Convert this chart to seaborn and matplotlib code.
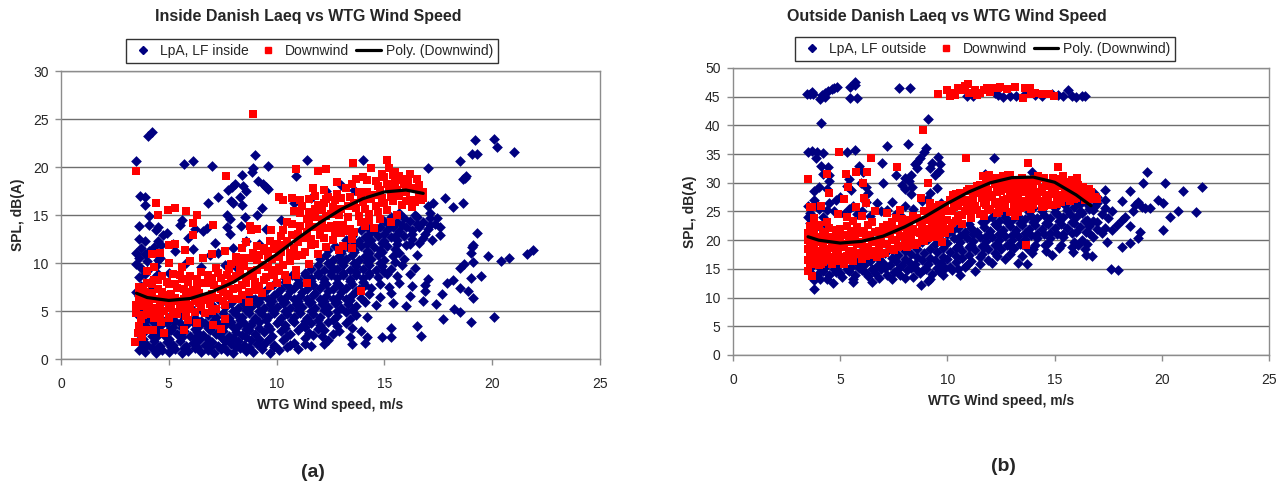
import matplotlib
matplotlib.use("Agg")
import matplotlib.pyplot as plt
from matplotlib.lines import Line2D
import pandas as pd
import seaborn as sns

# ---------------- inside measurements (panel a) ----------------
inside_lpa = [
    (3.6,0.9),(3.9,0.7),(4.2,1.1),(4.4,0.6),(4.7,0.9),(5.0,0.7),(5.3,1.0),(5.6,0.6),(5.9,0.8),(6.2,1.1),
    (6.5,0.7),(6.8,0.9),(7.1,0.6),(7.4,1.0),(7.7,0.8),(8.0,0.6),(8.3,1.1),(8.6,0.8),(8.9,0.7),(9.3,1.0),
    (9.7,0.6),(10.1,0.9),(10.5,1.2),(11.0,1.0),(11.6,1.4),(12.2,1.6),(13.5,1.6),(14.1,1.7),
    (3.8,1.2),(4.5,1.2),(5.1,1.3),(5.7,1.1),(6.3,1.3),(6.9,1.2),(7.5,1.3),(8.1,1.2),(8.7,1.3),(9.3,1.4),
    (9.9,1.2),(10.6,1.5),(11.3,1.6),
    (3.7,1.7),(4.0,1.5),(4.3,1.9),(4.6,1.4),(4.9,1.8),(5.2,1.5),(5.5,1.9),(5.8,1.4),(6.1,1.7),(6.4,2.0),
    (6.7,1.5),(7.0,1.8),(7.3,1.4),(7.6,1.9),(7.9,1.6),(8.2,1.9),(8.5,1.5),(8.8,2.0),(9.1,1.6),(9.5,1.8),
    (9.9,1.5),(10.3,2.0),(10.8,1.7),(11.3,2.2),(12.1,2.4),(12.6,2.6),(13.4,2.3),(14.2,2.3),(14.9,2.3),(15.3,2.3),
    (3.8,2.1),(4.4,2.3),(5.0,2.1),(5.6,2.3),(6.2,2.2),(6.8,2.1),(7.4,2.3),(8.0,2.2),(8.6,2.3),(9.2,2.1),
    (9.7,2.2),(10.5,2.4),(11.7,2.5),(12.4,2.0),
    (3.6,2.6),(3.9,2.9),(4.2,2.4),(4.5,2.8),(4.8,2.5),(5.1,3.0),(5.4,2.6),(5.7,2.9),(6.0,2.4),(6.3,2.8),
    (6.6,2.5),(6.9,3.0),(7.2,2.6),(7.5,2.9),(7.8,2.4),(8.1,2.8),(8.4,2.5),(8.7,3.0),(9.0,2.6),(9.4,2.8),
    (9.8,2.4),(10.2,2.9),(10.6,2.6),(11.0,3.0),(11.5,2.7),(11.9,3.1),(13.5,3.2),(13.9,2.9),(15.3,3.2),(16.5,3.4),(16.7,2.4),
    (3.8,3.1),(4.4,3.2),(5.0,3.0),(5.6,3.2),(6.2,3.1),(6.8,3.2),(7.4,3.1),(8.0,3.3),(8.6,3.1),(9.2,3.2),
    (9.7,3.1),(10.4,3.2),(11.3,3.3),(12.2,3.0),(12.9,2.9),
    (3.7,3.6),(4.0,3.3),(4.3,3.8),(4.6,3.4),(4.9,3.7),(5.2,3.3),(5.5,3.8),(5.8,3.5),(6.1,3.9),(6.4,3.4),
    (6.7,3.7),(7.0,3.3),(7.3,3.8),(7.6,3.5),(7.9,3.9),(8.2,3.4),(8.5,3.8),(8.8,3.5),(9.2,3.9),(9.6,3.4),
    (10.0,3.8),(10.4,3.5),(10.8,3.9),(11.2,3.4),(11.6,3.8),(12.0,3.5),(12.4,3.9),(12.8,3.4),(13.2,3.7),
    (3.9,4.0),(4.7,4.1),(5.3,4.0),(5.9,4.2),(6.5,4.0),(7.1,4.1),(7.7,4.0),(8.3,4.1),(8.9,4.0),(9.5,4.1),
    (10.1,4.0),(10.7,4.1),(11.3,4.0),(11.9,4.1),(12.6,4.1),(13.4,4.2),(14.2,4.4),
    (3.6,4.5),(4.1,4.3),(4.4,4.7),(5.0,4.4),(5.6,4.6),(6.2,4.3),(6.8,4.6),(7.2,4.4),(7.5,4.8),(7.8,4.3),
    (8.1,4.7),(8.4,4.4),(8.7,4.8),(9.0,4.3),(9.3,4.7),(9.6,4.4),(9.9,4.8),(10.2,4.3),(10.5,4.7),(10.8,4.4),
    (11.1,4.8),(11.4,4.3),(11.7,4.7),(12.0,4.4),(12.4,4.8),(12.8,4.5),(13.2,4.9),(13.7,4.6),(18.25,5.2),
    (18.5,4.9),(19.0,3.9),(20.1,4.35),(17.7,4.2),
    (4.5,5.2),(5.0,5.6),(5.5,5.0),(6.0,5.4),(6.5,5.1),(7.0,5.6),(6.3,6.0),(7.3,6.3),(7.8,6.6),
    (8.0,5.0),(8.6,5.1),(9.2,5.0),(9.8,5.1),(10.4,5.0),(11.0,5.1),(11.6,5.0),(12.2,5.1),(12.8,5.0),(13.5,5.1),
    (3.7,5.4),(4.0,5.8),(7.6,5.4),(7.9,5.8),(8.2,5.3),(8.5,5.7),(8.8,5.4),(9.1,5.8),(9.4,5.3),(9.7,5.7),
    (10.0,5.4),(10.3,5.8),(10.6,5.3),(10.9,5.7),(11.2,5.4),(11.5,5.8),(11.8,5.3),(12.1,5.7),(12.4,5.4),
    (12.7,5.8),(13.0,5.3),(13.3,5.7),(13.7,5.5),(14.1,5.9),(14.6,5.6),(15.4,5.8),(16.0,5.5),(16.8,6.0),
    (17.4,5.7),(17.65,6.75),
    (8.6,6.0),(9.2,5.9),(9.8,6.0),(10.4,5.9),(11.0,6.0),(11.6,5.9),(12.2,6.0),(12.8,5.9),(13.4,6.1),
    (3.6,6.6),(3.9,6.2),(8.3,6.3),(8.7,6.6),(9.0,6.2),(9.3,6.6),(9.6,6.3),(9.9,6.7),(10.2,6.3),(10.5,6.6),
    (10.8,6.2),(11.1,6.6),(11.4,6.3),(11.7,6.7),(12.0,6.3),(12.3,6.6),(12.6,6.2),(12.9,6.6),(13.2,6.3),
    (13.5,6.7),(13.9,6.4),(14.3,6.8),(14.8,6.5),(15.3,6.9),(16.2,6.6),(16.9,7.1),(18.9,7.1),(19.1,6.4),(18.5,7.4),
    (9.4,7.0),(10.0,6.9),(10.6,7.1),(11.2,7.0),(11.8,6.9),(12.4,7.1),(13.0,7.0),(13.7,7.1),
    (3.7,7.6),(4.2,7.3),(9.6,7.4),(9.9,7.8),(10.2,7.3),(10.5,7.7),(10.8,7.4),(11.1,7.8),(11.4,7.3),(11.7,7.7),
    (12.0,7.4),(12.3,7.8),(12.6,7.3),(12.9,7.7),(13.2,7.4),(13.5,7.8),(13.8,7.3),(14.1,7.7),(14.4,7.4),
    (14.8,7.8),(15.2,7.5),(15.7,7.9),(16.3,7.6),(16.9,7.75),(17.9,7.9),
    (10.4,8.0),(11.0,7.9),(11.6,8.1),(12.2,8.0),(12.8,7.9),(13.4,8.1),(14.0,8.0),
    (3.6,8.5),(3.9,8.9),(4.3,8.4),(10.4,8.4),(10.7,8.8),(11.0,8.3),(11.3,8.7),(11.6,8.4),(11.9,8.8),(12.2,8.3),
    (12.5,8.7),(12.8,8.4),(13.1,8.8),(13.4,8.3),(13.7,8.7),(14.0,8.4),(14.3,8.8),(14.7,8.5),(15.1,8.9),
    (15.6,8.6),(16.2,8.9),(17.0,8.3),(18.17,8.2),(19.0,8.4),(19.5,8.65),
    (11.3,9.0),(11.9,9.0),(12.5,9.1),(13.1,9.0),(13.7,9.1),(14.3,9.0),(15.0,9.1),
    (3.7,9.5),(4.0,9.2),(4.4,9.7),(11.6,9.4),(11.9,9.8),(12.2,9.3),(12.5,9.7),(12.8,9.4),(13.1,9.8),(13.4,9.3),
    (13.7,9.7),(14.0,9.4),(14.3,9.8),(14.6,9.3),(14.9,9.7),(15.3,9.4),(15.8,9.8),(16.4,9.5),(18.5,9.5),
    (18.7,9.9),(19.1,10.1),
    (12.4,10.0),(13.0,10.1),(13.6,10.0),(14.2,10.1),(14.8,10.0),(15.5,10.1),
    (3.6,10.5),(3.9,10.9),(4.5,10.3),(12.0,10.4),(12.3,10.8),(12.6,10.3),(12.9,10.7),(13.2,10.4),(13.5,10.8),
    (13.8,10.3),(14.1,10.7),(14.4,10.4),(14.7,10.8),(15.0,10.3),(15.4,10.7),(15.9,10.4),(16.5,10.8),
    (19.8,10.7),(20.4,10.2),(20.78,10.56),(21.6,10.95),(21.9,11.37),
    (13.0,11.0),(13.6,11.1),(14.3,11.0),(14.9,11.1),(15.7,11.0),
    (3.7,11.6),(4.1,11.2),(4.65,11.9),(12.4,11.4),(12.7,11.8),(13.0,11.3),(13.3,11.7),(13.6,11.4),(13.9,11.8),
    (14.2,11.3),(14.5,11.7),(14.8,11.4),(15.1,11.8),(15.5,11.5),(16.0,11.9),(16.6,12.1),(17.2,12.4),
    (19.07,11.7),(19.1,11.9),(19.0,11.0),
    (13.6,12.0),(14.2,12.0),(14.9,12.1),(15.6,12.0),(16.2,12.0),
    (3.9,12.3),(4.5,12.3),(4.75,12.9),(5.9,12.6),(7.14,12.1),(13.2,12.4),(13.5,12.8),(13.8,12.3),(14.1,12.7),
    (14.4,12.4),(14.7,12.8),(15.0,12.3),(15.3,12.7),(15.6,12.4),(15.9,12.8),(16.3,12.5),(16.8,12.6),
    (17.58,12.9),(19.3,13.1),
    (14.3,13.0),(15.0,13.0),(15.6,13.0),(16.3,13.0),(16.9,13.0),
    (3.62,13.9),(4.1,14.0),(4.4,13.4),(4.51,13.8),(5.52,14.0),(6.6,13.3),(6.76,13.6),(7.7,13.7),(7.86,13.0),
    (8.33,13.9),(13.9,13.4),(14.2,13.8),(14.5,13.3),(14.8,13.7),(15.1,13.4),(15.4,13.8),(15.7,13.3),
    (16.0,13.7),(16.3,13.4),(16.6,13.8),(17.0,13.5),(17.35,14.1),(17.6,13.7),
    (15.2,14.0),(15.8,14.0),(16.5,14.1),(17.1,14.0),(15.7,15.2),(16.4,15.0),(17.1,15.2),
    (4.08,14.9),(5.6,14.5),(7.7,15.0),(7.84,14.6),(8.53,14.8),(9.07,15.0),(15.0,14.4),(15.3,14.8),(15.6,14.3),
    (15.9,14.7),(16.2,14.4),(16.5,14.8),(16.8,14.3),(17.1,14.7),(17.45,14.7),
    (3.5,7.0),(3.5,9.9),(3.5,11.0),(3.6,12.5),(4.0,10.2),(4.3,11.7),(4.5,8.9),
    (3.66,17.0),(3.9,16.9),(3.9,16.0),(6.83,16.2),(7.3,16.9),(7.76,17.6),(7.92,17.9),(8.07,18.25),(8.46,18.0),
    (8.38,19.2),(8.6,17.5),(9.15,18.5),(9.35,18.2),(9.5,17.9),(9.62,17.7),(7.9,16.5),(8.0,16.3),(8.4,16.0),
    (8.3,16.9),(9.3,15.7),(3.48,20.6),(5.72,20.3),(6.14,20.6),(7.02,20.1),(9.0,21.3),(8.84,19.5),(8.9,19.9),
    (9.62,20.1),(11.4,20.7),(10.88,19.1),(4.05,23.2),(4.2,23.6),(14.02,20.75),(17.04,19.9),(18.5,20.6),
    (19.08,21.4),(19.28,21.4),(19.2,22.8),(20.1,22.9),(20.24,22.1),(21.02,21.55),(18.66,18.7),(18.73,18.9),
    (18.8,19.1),(17.8,16.75),(18.2,15.8),(18.66,16.2),(17.24,16.2),(17.0,15.9),
    (4.6,10.5),(5.0,9.0),(5.3,11.2),(5.8,10.0),(6.1,11.5),(6.5,9.6),(6.9,10.8),(7.3,11.0),(7.6,9.8),(8.0,11.6),
    (8.6,12.3),(8.1,9.6),(9.2,12.0),(9.5,13.5),(5.2,12.0),(6.2,13.5),(4.9,13.1),(10.2,14.5),(10.8,16.2),
    (11.6,16.8),(12.3,17.5),(13.0,18.1),(13.6,17.6),
]

inside_downwind = [
    (3.5,4.8),(3.6,5.9),(3.6,6.8),(3.7,4.2),(3.8,5.5),(3.8,7.4),(3.9,6.3),(4.0,4.7),(4.0,7.9),(4.1,5.8),
    (4.2,6.9),(4.3,4.3),(4.3,8.2),(4.4,5.3),(4.5,7.3),(4.6,6.1),(4.6,4.5),(4.7,8.6),(4.8,5.0),(4.9,6.7),
    (5.0,7.8),(5.0,4.3),(5.1,5.7),(5.2,8.9),(5.3,6.4),(5.4,4.7),(5.4,7.4),(5.5,5.4),(5.6,8.3),(5.7,6.2),
    (5.8,4.5),(5.8,7.0),(5.9,5.6),(6.0,8.6),(6.1,6.6),(6.2,4.9),(6.3,7.6),(6.4,5.8),(6.5,9.1),(6.6,6.4),
    (6.7,4.8),(6.8,7.9),(6.9,5.7),(7.0,8.4),(7.0,6.8),(7.2,5.2),(7.3,9.0),(7.4,7.3),(7.5,6.0),
    (3.5,5.6),(3.6,7.5),(3.7,6.1),(3.8,4.6),(3.9,7.0),(4.0,5.2),(4.1,6.5),(4.2,7.8),(4.3,5.0),(4.4,6.2),
    (4.5,8.2),(4.6,5.5),(4.7,7.0),(4.8,6.0),(4.9,8.0),(5.0,5.3),(5.1,6.8),(5.2,4.9),(5.3,7.8),(5.4,6.0),
    (5.5,8.7),(5.6,5.2),(5.7,7.3),(5.8,6.2),(5.9,8.0),(6.0,5.2),(6.1,7.2),(6.2,6.0),(6.3,8.3),(6.4,6.9),
    (6.5,5.4),(6.6,7.9),(6.7,6.1),(6.8,8.8),(6.9,6.5),(7.0,5.0),(7.1,7.7),(7.2,9.5),(7.3,6.4),(7.4,8.4),
    (7.5,7.0),(7.6,5.6),(7.7,8.8),(7.8,6.8),(7.9,9.9),(8.0,7.3),(8.1,8.6),(8.2,6.2),(8.3,9.6),(8.4,7.7),
    (8.5,10.5),(8.6,8.5),(8.7,7.0),(8.8,9.2),(8.9,11.0),(9.0,8.0),(9.1,10.3),(9.2,7.6),(9.3,9.8),(9.4,11.6),
    (9.5,8.5),(9.6,10.7),(9.7,12.3),(9.8,9.3),(9.9,11.5),(10.0,9.2),(10.1,10.6),(10.2,12.8),(10.3,9.8),
    (10.4,11.9),(10.5,14.3),(10.6,11.0),(10.7,12.9),(10.8,15.4),(10.9,10.7),(11.0,12.2),(11.1,13.9),
    (11.2,15.9),(11.3,11.1),(11.4,13.2),(11.5,15.3),(11.6,12.5),(11.7,14.8),(11.8,12.0),(11.9,16.0),
    (12.0,13.8),(12.1,15.5),(12.2,12.6),(12.3,14.9),(12.4,16.9),(12.5,13.9),(12.6,15.8),(12.7,13.2),
    (12.8,17.2),(12.9,15.0),(13.0,16.8),(13.1,14.0),(13.2,17.8),(13.3,15.9),(13.4,13.5),(13.6,16.3),
    (13.7,18.8),(13.8,14.9),(13.9,16.9),(14.0,19.0),(14.1,15.6),(14.2,17.4),(14.3,14.5),(14.4,16.7),
    (14.6,18.5),(14.7,15.3),(14.8,17.6),(14.9,19.3),(15.0,16.2),(15.1,18.2),(15.3,16.9),(15.4,19.2),
    (15.6,17.6),(15.7,19.1),(15.8,18.6),(16.0,16.5),(16.1,17.9),(16.2,19.3),(16.4,16.4),(16.5,18.7),
    (16.6,17.2),(16.8,16.8),
    (3.45,1.8),(3.57,2.7),(3.74,2.3),(3.6,3.4),(3.9,3.0),(4.26,3.0),(4.62,3.9),(4.78,2.7),(5.7,3.0),(5.9,4.1),
    (7.06,3.5),(7.4,3.1),(7.6,4.2),(6.3,3.7),
    (3.48,19.6),(4.39,16.2),(4.48,15.0),(4.98,15.5),(5.29,15.7),(5.78,15.4),(6.29,15.0),(6.1,14.2),(7.07,14.0),
    (6.1,12.9),(5.0,11.9),(5.3,12.0),(5.75,11.4),(4.2,10.9),(4.6,11.0),(4.0,9.2),(4.3,9.6),(5.0,10.0),
    (5.6,9.6),(6.0,10.2),(6.6,10.5),(7.0,10.9),(7.67,19.1),(8.89,25.5),(8.77,13.9),(8.8,13.4),(9.07,13.5),
    (8.6,12.2),(9.1,11.8),(8.4,11.6),(9.75,13.4),(7.6,11.3),(8.1,10.6),
    (7.6,7.8),(7.7,6.6),(7.8,9.4),(7.9,8.3),(8.0,6.2),(8.1,10.1),(8.2,7.4),(8.3,8.8),(8.4,6.7),(8.5,9.7),
    (8.6,7.9),(8.7,5.9),(8.8,10.5),(8.9,8.6),(9.0,7.2),(9.1,9.3),(9.2,10.8),(9.3,6.9),(9.4,8.2),(9.5,11.3),
    (9.6,9.6),(9.7,7.6),(9.8,10.4),(9.9,8.8),(10.0,12.0),(10.0,7.9),
    (10.1,9.5),(10.2,11.1),(10.3,13.4),(10.4,8.7),(10.5,12.3),(10.6,10.2),(10.7,14.1),(10.8,11.6),(10.9,9.3),
    (11.0,13.0),(11.1,15.2),(11.2,10.8),(11.3,12.6),(11.4,14.6),(11.5,9.9),(11.6,11.9),(11.7,13.7),(11.8,15.6),
    (11.9,10.9),(12.0,12.9),(12.1,14.3),(12.2,16.2),(12.3,11.7),(12.4,13.6),(12.5,15.1),(12.6,12.4),
    (12.7,16.6),(12.8,14.0),(12.9,11.4),(13.0,15.6),(13.0,13.1),(10.1,16.9),(10.3,16.6),(10.7,16.8),
    (11.1,16.6),(11.5,16.7),(11.7,17.8),(11.8,17.0),(12.2,17.6),(12.3,16.7),(12.8,18.4),(10.9,19.8),
    (11.9,19.6),(12.3,19.8),(11.5,14.0),(11.8,14.8),(12.1,14.5),(11.4,7.9),(10.5,8.2),(10.9,8.8),
    (13.1,11.8),(13.2,13.3),(13.3,14.8),(13.4,16.9),(13.5,12.5),(13.5,18.2),(13.56,20.4),(13.6,13.2),
    (13.7,15.7),(13.8,17.4),(13.9,14.3),(14.0,16.4),(14.1,13.9),(14.2,18.6),(14.3,15.1),(14.4,19.9),
    (14.5,13.6),(14.5,17.1),(14.6,15.9),(14.7,18.0),(14.8,14.6),(14.9,16.8),(15.0,19.0),(15.1,20.75),
    (15.1,15.5),(15.2,17.7),(15.2,19.9),(15.3,14.3),(15.4,16.5),(15.5,19.5),(15.5,18.3),(15.6,15.0),
    (15.7,17.0),(15.8,16.0),(15.9,18.2),(15.95,18.7),(16.0,17.4),(16.1,18.5),(16.2,16.6),(16.3,15.8),
    (16.4,17.8),(16.5,16.6),(16.6,18.1),(16.7,16.6),(16.8,17.4),(13.5,11.6),(13.9,7.1),(13.5,12.9),
]

inside_trend_x = [3.5, 4.0, 5.0, 6.0, 7.0, 8.0, 9.0, 10.0, 11.0, 12.0, 13.0, 14.0, 15.0, 16.0, 16.8]
inside_trend_y = [6.85, 6.4, 6.1, 6.3, 7.0, 8.0, 9.4, 10.9, 12.6, 14.2, 15.6, 16.7, 17.4, 17.6, 17.25]

# ---------------- outside measurements (panel b) ----------------
outside_lpa = [
    (3.44,45.4),(3.6,45.5),(3.75,45.4),(3.7,45.8),(4.06,44.6),(4.15,45.3),(4.3,45.6),(4.45,46.0),(4.6,46.3),
    (4.72,46.6),(4.84,46.7),(4.3,44.9),(5.46,46.7),(5.46,44.8),(5.7,47.5),(5.7,47.0),(5.77,44.8),(7.74,46.6),
    (8.26,46.6),(12.2,45.6),(12.37,45.3),(12.92,45.1),(13.6,45.4),(14.08,45.3),(14.4,45.2),(14.86,45.4),
    (15.17,45.3),(15.4,45.2),(15.64,46.2),(15.8,45.2),(16.0,45.0),(16.26,45.2),(16.4,45.1),(11.2,45.1),
    (10.9,45.2),(13.2,45.2),(12.6,45.0),
    (4.09,40.5),(9.11,41.2),(3.7,35.5),(3.9,35.3),(4.2,35.2),(3.5,35.4),(3.85,34.3),(5.7,35.7),(5.3,35.3),
    (7.2,36.4),(8.18,36.7),(8.99,36.1),(8.9,35.3),(8.7,34.3),(8.6,33.6),(9.58,34.5),(8.5,33.2),(8.6,32.5),
    (8.3,31.4),(8.0,30.8),(7.6,31.4),(8.2,30.4),(7.9,29.7),(8.35,29.3),(6.96,33.4),(5.9,33.0),(6.05,31.8),
    (5.4,30.6),(5.3,29.5),(5.5,28.8),(4.1,33.0),(4.44,32.7),(4.19,31.6),(4.5,31.3),(4.5,30.3),(4.0,29.2),
    (4.4,28.9),(3.8,28.5),(5.95,30.0),(6.3,28.3),(6.2,29.2),(7.0,30.0),(9.2,32.5),(9.4,31.4),(9.6,32.0),
    (9.3,33.5),(9.65,33.2),(9.5,29.1),(9.2,28.3),(9.05,27.2),(8.0,28.9),(8.3,28.0),(11.75,31.5),(12.19,34.4),
    (13.96,31.8),(19.3,31.8),(19.14,29.9),(20.16,29.9),(21.0,28.6),(21.88,29.3),(17.35,28.7),(18.5,28.5),
    (18.16,26.8),(19.8,27.0),(20.07,26.5),(20.77,25.1),(21.6,24.9),(20.38,24.1),(20.07,21.7),(18.98,21.4),
    (18.9,20.3),(18.5,19.5),(18.16,18.9),(16.76,17.25),(16.45,17.5),(15.87,17.9),(14.86,17.4),(14.55,19.2),
    (13.7,15.8),(13.28,16.0),(13.96,17.7),(17.63,14.9),(17.94,14.75),(17.35,22.1),(17.66,21.8),(17.2,21.2),
    (17.43,19.7),(17.9,22.6),(18.13,23.5),(18.28,24.1),(18.5,22.4),(18.75,26.1),(18.9,26.7),(19.06,25.8),
    (19.2,25.6),(19.45,25.6),(18.67,25.0),(17.35,25.6),(17.66,25.0),(17.2,24.5),(17.5,23.9),(16.8,23.4),
    (16.6,22.5),(17.0,22.0),(16.8,20.6),(16.45,21.5),(16.3,20.0),(16.3,27.9),(16.5,27.3),(16.85,28.2),
    (17.35,27.0),(16.0,27.0),(16.9,26.0),
    (3.79,11.45),(4.06,13.2),(4.68,12.6),(5.58,12.8),(6.5,12.8),(8.75,12.2),(9.1,12.9),(10.6,14.0),(11.3,14.6),
    (3.5,26.0),(3.6,24.7),(3.8,27.0),(4.0,25.5),(4.2,24.0),(4.5,26.5),(4.7,25.0),(5.0,27.5),(5.2,24.5),
    (5.6,26.0),(6.0,25.0),(6.4,24.2),(6.7,26.4),(7.2,25.2),(7.6,24.6),(8.0,26.0),(3.6,23.0),(3.9,22.5),(4.3,22.8),
    (3.5,24.0),(3.9,26.2),(4.4,25.2),(4.8,27.0),(5.4,25.4),(5.8,24.6),(6.2,26.6),(6.9,25.0),(7.4,26.6),
    (7.9,24.0),(8.4,25.4),(8.8,26.8),(9.3,25.0),(9.7,26.4),
    (3.8,13.0),(4.4,13.3),(5.0,14.2),(5.6,13.2),(6.2,14.3),(6.8,13.4),(7.4,13.2),(8.0,13.4),(8.6,14.8),
    (9.2,13.3),(9.8,14.0),(10.5,15.0),
    (3.6,14.5),(3.9,14.0),(4.2,14.7),(4.5,13.9),(4.8,14.4),(5.1,13.6),(5.4,14.6),(5.7,14.0),(6.0,14.8),
    (6.3,13.7),(6.6,14.3),(6.9,14.9),(7.2,13.9),(7.5,14.5),(7.8,14.0),(8.1,14.8),(8.4,13.6),(8.7,14.3),
    (9.0,14.9),(9.3,14.1),(9.6,14.6),(9.9,15.1),(10.2,14.8),(10.8,15.3),
    (3.6,15.1),(4.1,14.9),(4.7,15.0),(5.3,14.9),(5.9,15.1),(6.5,14.9),(7.1,15.1),(7.7,15.0),(8.3,15.1),
    (8.9,15.0),(9.5,15.2),(10.1,15.4),(10.9,15.6),(11.5,15.8),(12.1,16.0),
    (3.7,15.6),(4.0,16.0),(4.3,15.4),(4.6,16.1),(4.9,15.5),(5.2,16.2),(5.5,15.4),(5.8,16.0),(6.1,15.6),
    (6.4,16.3),(6.7,15.5),(7.0,16.1),(7.3,15.7),(7.6,16.4),(7.9,15.6),(8.2,16.2),(8.5,15.8),(8.8,16.5),
    (9.1,15.9),(9.4,16.6),(9.7,16.0),(10.0,16.7),(10.4,16.2),(10.7,16.9),(11.1,16.4),(11.5,17.0),(11.9,16.6),
    (12.3,17.2),(12.7,16.8),
    (3.6,16.8),(4.2,17.0),(4.8,16.9),(5.6,16.7),(6.2,16.9),(6.8,16.7),(7.4,16.9),(8.0,16.8),(8.6,17.0),
    (9.2,16.9),(9.8,17.1),(10.4,17.2),(11.0,17.4),(11.6,17.6),(12.2,17.8),(12.9,17.6),(13.5,17.2),
    (5.3,17.4),(5.9,17.8),(6.5,17.3),(7.1,17.7),(7.4,18.3),(7.7,17.5),(8.0,18.1),(8.3,17.6),(8.6,18.4),
    (8.9,17.8),(9.2,18.5),(9.5,17.9),(9.8,18.6),(10.1,18.0),(10.4,18.7),(10.7,18.2),(11.0,18.9),(11.3,18.3),
    (11.6,19.0),(11.9,18.4),(12.2,19.1),(12.5,18.5),(12.8,19.2),(13.1,18.6),(13.4,19.3),(13.7,18.7),
    (14.0,18.4),(14.6,18.1),(15.2,18.6),(15.8,18.8),(16.4,18.5),
    (10.5,19.0),(11.1,19.2),(11.7,18.9),(12.3,19.3),(12.9,19.0),(13.5,19.4),(14.1,19.1),(14.7,19.5),
    (15.3,19.2),(15.9,19.6),(16.5,19.4),
    (8.8,19.6),(9.1,20.2),(9.4,19.4),(9.7,20.0),(10.0,19.5),(10.3,20.3),(10.6,19.7),(10.9,20.4),(11.2,19.8),
    (11.5,20.5),(11.8,19.9),(12.1,20.6),(12.4,20.0),(12.7,20.7),(13.0,20.1),(13.3,20.8),(13.6,20.2),
    (13.9,20.9),(14.2,20.3),(14.5,21.0),(14.8,20.4),(15.1,21.1),(15.4,20.5),(15.8,21.2),(16.1,19.2),
    (10.0,21.0),(10.6,20.8),(11.2,21.0),(11.8,20.8),(12.4,21.1),(13.0,20.9),(13.6,21.2),(14.2,21.0),
    (14.8,21.3),(15.4,21.1),(16.0,21.4),(16.6,21.2),
    (10.2,21.6),(10.5,22.2),(10.8,21.5),(11.1,22.1),(11.4,21.4),(11.7,22.3),(12.0,21.6),(12.3,22.4),
    (12.6,21.7),(12.9,22.5),(13.2,21.8),(13.5,22.6),(13.8,21.9),(14.1,22.7),(14.4,22.0),(14.7,22.8),
    (15.0,22.1),(15.3,22.9),(15.6,22.2),(15.9,23.0),(16.2,22.3),(16.5,23.5),
    (11.0,22.9),(11.6,23.1),(12.2,22.9),(12.8,23.1),(13.4,23.0),(14.0,23.2),(14.6,23.0),(15.2,23.3),
    (15.8,23.1),(16.4,23.4),(17.0,23.2),
    (11.8,23.6),(12.1,24.1),(12.4,23.4),(12.7,24.0),(13.0,23.5),(13.3,24.2),(13.6,23.7),(13.9,24.3),
    (14.2,23.8),(14.5,24.4),(14.8,23.9),(15.1,24.5),(15.4,24.0),(15.7,24.6),(16.0,24.1),(16.3,24.8),(16.6,25.4),
    (12.6,24.9),(13.2,25.1),(13.8,24.9),(14.4,25.1),(15.0,24.9),(15.6,25.2),(16.2,25.0),(16.8,25.2),
    (14.0,25.6),(14.5,26.0),(15.0,25.6),(15.5,26.2),(15.9,25.7),(16.2,26.3),(16.6,26.0),(17.0,26.5),
    (15.3,26.9),(15.8,27.3),(16.4,26.8),(17.0,27.6),
]

outside_downwind = [
    (9.55,45.4),(10.0,46.2),(10.2,45.6),(10.51,46.5),(10.98,47.2),(10.67,46.2),(11.29,46.2),(11.52,45.6),
    (10.12,45.2),(11.83,46.5),(12.07,46.6),(12.37,46.5),(11.0,45.7),(10.35,45.3),(11.4,45.3),(12.45,46.7),
    (12.0,45.9),(13.15,46.7),(13.6,46.6),(13.85,46.6),(13.54,44.8),(14.07,45.6),(14.75,45.4),(14.98,45.2),
    (13.9,45.5),(10.8,46.9),(11.7,46.1),(12.8,46.3),(14.4,45.5),
    (8.88,39.2),(4.95,35.4),(6.44,34.3),(7.63,32.8),(10.85,34.4),(5.26,31.6),(5.74,31.8),(6.24,31.9),
    (3.48,30.6),(4.4,31.5),(5.38,29.3),(6.08,29.9),(4.46,28.2),(9.08,29.9),(8.77,27.4),(5.16,27.2),
    (6.1,27.4),(6.2,26.5),(5.74,25.7),(3.59,25.7),(3.59,22.4),(3.52,14.6),(3.7,13.8),(9.73,19.7),
    (9.19,26.4),(9.6,26.2),(10.28,27.9),(13.75,33.4),(15.14,32.8),(13.65,19.2),
    (11.65,31.1),(11.96,31.4),(12.27,30.8),(12.58,31.1),(12.9,31.4),(12.84,31.4),(12.92,29.6),(13.47,30.2),
    (13.85,29.6),(14.24,31.1),(14.94,30.8),(15.4,31.1),(15.8,30.5),(16.03,30.8),(16.34,29.3),(16.57,27.6),
    (16.8,27.4),(15.72,28.2),(15.4,27.3),(14.94,26.1),(14.4,25.8),(13.93,26.7),(13.3,24.9),(13.15,24.3),
    (3.5,16.5),(3.5,18.5),(3.5,20.0),(3.6,17.4),(3.7,19.3),(3.7,15.8),(3.8,21.0),(3.9,16.6),(3.9,18.2),
    (4.0,20.2),(4.1,17.3),(4.1,15.9),(4.2,19.0),(4.3,21.4),(4.3,16.5),(4.4,18.0),(4.5,20.0),(4.6,17.1),
    (4.6,15.8),(4.7,19.2),(4.8,21.8),(4.8,16.4),(4.9,18.3),(5.0,20.6),(5.1,17.0),(5.2,19.4),(5.2,15.9),
    (5.3,22.5),(5.4,18.2),(5.5,16.6),(5.5,20.5),(4.0,22.7),(4.4,23.2),(4.9,24.5),(5.3,24.0),(3.8,23.8),
    (3.7,25.8),(4.1,25.9),
    (3.6,16.0),(3.6,18.0),(3.6,19.8),(3.7,21.5),(3.8,17.0),(3.8,18.8),(3.9,20.6),(4.0,15.6),(4.0,17.8),
    (4.1,19.6),(4.2,16.2),(4.2,21.0),(4.3,18.4),(4.4,20.5),(4.5,16.8),(4.5,22.1),(4.6,18.6),(4.7,20.6),
    (4.8,17.6),(4.9,19.8),(5.0,16.4),(5.0,22.0),(5.1,18.8),(5.2,20.9),(5.3,17.3),(5.4,19.6),(5.5,21.6),
    (5.6,18.0),(3.5,21.2),(3.9,22.4),
    (5.7,17.6),(5.8,19.3),(5.9,21.2),(6.0,16.8),(6.1,18.5),(6.2,20.4),(6.3,22.6),(6.4,17.4),(6.5,19.6),
    (6.6,21.5),(6.7,17.0),(6.8,18.6),(6.9,20.5),(7.0,22.3),(7.1,17.8),(7.2,19.4),(7.3,21.2),(7.4,23.1),
    (7.5,18.3),(7.6,20.1),(7.7,22.0),(7.8,19.0),(7.9,23.7),(8.0,20.8),(8.1,18.8),(8.2,22.5),(8.3,19.9),
    (8.4,24.3),(8.5,21.4),(8.6,19.5),(8.7,23.2),(8.8,20.6),(8.9,25.1),(9.0,22.0),(9.1,20.3),(9.2,24.0),
    (9.3,21.5),(9.4,25.7),(9.5,23.0),(9.6,21.0),(9.7,24.8),(9.8,22.4),(9.9,26.2),(10.0,23.6),(10.1,21.9),
    (6.0,24.2),(6.6,25.0),(7.2,24.8),(7.8,25.3),(5.6,23.3),
    (5.6,16.3),(5.7,20.2),(5.8,22.3),(5.9,17.8),(6.0,19.6),(6.1,21.6),(6.2,17.2),(6.3,18.8),(6.4,20.9),
    (6.5,23.2),(6.6,18.2),(6.7,19.9),(6.8,21.6),(6.9,17.6),(7.0,19.3),(7.1,21.1),(7.2,22.7),(7.3,18.4),
    (7.4,20.0),(7.5,21.8),(7.6,23.8),(7.7,18.9),(7.8,20.8),(7.9,22.3),(8.0,19.4),(8.1,21.5),(8.2,23.6),
    (8.3,20.7),(8.4,22.0),(8.5,19.2),(8.6,23.9),(8.7,21.3),(8.8,22.7),(8.9,19.9),(9.0,23.6),(9.1,21.8),
    (9.2,25.2),(9.3,22.6),(9.4,20.6),(9.5,24.4),(9.6,22.0),(9.7,26.0),(9.8,23.5),(9.9,21.2),(10.0,25.0),(10.1,27.0),
    (10.2,25.0),(10.3,27.1),(10.4,23.3),(10.5,26.0),(10.6,28.3),(10.7,24.4),(10.8,27.0),(10.9,25.6),
    (11.0,29.0),(11.1,23.9),(11.2,26.8),(11.3,28.2),(11.4,25.2),(11.5,29.6),(11.6,27.4),(11.7,24.3),
    (11.8,26.2),(11.9,28.7),(12.0,25.4),(12.1,27.6),(12.2,29.8),(12.3,24.8),(12.4,26.7),(12.5,28.5),
    (12.6,25.6),(12.7,30.0),(12.8,27.2),(12.9,24.9),(13.0,28.6),(13.1,26.2),(13.2,30.1),(13.3,27.5),
    (13.4,25.6),(13.5,29.0),(13.6,26.8),(13.7,30.4),(13.8,28.1),(13.9,25.4),(14.0,29.5),(14.1,27.0),
    (14.2,30.3),(14.3,28.4),(14.5,25.9),(14.6,29.6),(14.7,27.3),(14.9,30.0),(15.0,28.5),(15.1,26.3),
    (15.3,29.4),(15.4,27.8),(15.6,30.2),(15.7,26.8),(15.9,29.0),(16.0,27.4),(16.2,28.5),(16.4,27.0),
    (16.6,28.9),(16.8,27.2),
    (10.2,23.0),(10.3,25.8),(10.4,28.0),(10.5,24.2),(10.6,26.7),(10.7,22.8),(10.8,25.1),(10.9,28.6),
    (11.0,26.3),(11.1,24.7),(11.2,28.0),(11.3,26.0),(11.4,29.4),(11.5,24.6),(11.6,28.8),(11.7,26.5),
    (11.8,30.1),(11.9,25.3),(12.0,27.9),(12.1,30.5),(12.2,26.3),(12.3,28.4),(12.4,25.0),(12.5,29.6),
    (12.6,27.0),(12.7,25.9),(12.8,28.9),(12.9,27.6),(13.0,30.2),(13.1,25.1),(13.2,27.8),(13.3,29.2),
    (13.4,26.4),(13.5,30.8),(13.6,28.4),(13.7,25.8),(13.8,29.9),(13.9,27.6),(14.0,26.1),(14.1,30.6),
    (14.2,28.2),(14.3,26.8),(14.4,29.1),(14.5,30.9),(14.6,27.9),(14.7,26.2),(14.8,29.4),(14.9,28.0),
    (15.0,30.6),(15.1,27.3),(15.2,29.8),(15.3,26.6),(15.5,28.7),(15.6,27.4),(15.8,29.6),(15.9,27.2),
    (16.1,29.7),(16.3,28.2),(16.5,27.8),(16.7,28.4),(16.9,27.6),(17.0,27.2),
]

outside_trend_x = [3.5, 4.0, 5.0, 6.0, 7.0, 8.0, 9.0, 10.0, 11.0, 12.0, 13.0, 14.0, 15.0, 16.0, 16.7]
outside_trend_y = [20.6, 20.0, 19.5, 19.8, 20.7, 22.3, 24.2, 26.4, 28.4, 30.0, 30.9, 31.0, 30.1, 27.9, 26.0]

x_ticks = [0, 5, 10, 15, 20, 25]
inside_y_ticks = [0, 5, 10, 15, 20, 25, 30]
outside_y_ticks = [0, 5, 10, 15, 20, 25, 30, 35, 40, 45, 50]

NAVY = "#000080"
RED = "#FF0000"
GRID = "#6e6e6e"
FRAME = "#8c8c8c"

sns.set_theme(style="white")
plt.rcParams["font.family"] = ["Liberation Sans", "DejaVu Sans"]

W, H = 1288, 486
fig = plt.figure(figsize=(W / 100, H / 100), dpi=100)


def px_rect(left, top, right, bottom):
    return [left / W, 1 - bottom / H, (right - left) / W, (bottom - top) / H]


def draw_panel(rect, lpa, down, tx, ty, yticks, title, lpa_label,
               title_x, legend_x, legend_y, letter, letter_x, letter_y):
    ax = fig.add_axes(rect)
    ax.set_axisbelow(True)
    lp = pd.DataFrame(lpa, columns=["speed", "spl"])
    dw = pd.DataFrame(down, columns=["speed", "spl"])
    tr = pd.DataFrame({"speed": tx, "spl": ty})

    sns.scatterplot(data=lp, x="speed", y="spl", marker="D", color=NAVY, s=30,
                    linewidth=0, ax=ax, zorder=3)
    sns.scatterplot(data=dw, x="speed", y="spl", marker="s", color=RED, s=34,
                    linewidth=0, ax=ax, zorder=4)
    sns.lineplot(data=tr, x="speed", y="spl", color="black", linewidth=2.3,
                 ax=ax, zorder=5, estimator=None)

    ax.set_xlim(0, 25)
    ax.set_ylim(yticks[0], yticks[-1])
    ax.set_xticks(x_ticks)
    ax.set_yticks(yticks)
    ax.yaxis.grid(True, color=GRID, linewidth=1.0)
    ax.xaxis.grid(False)
    for sp in ax.spines.values():
        sp.set_color(FRAME)
        sp.set_linewidth(1.0)
        sp.set_visible(True)
    ax.tick_params(axis="x", direction="out", length=4, width=1, color=FRAME,
                   pad=9, labelsize=10, bottom=True)
    ax.tick_params(axis="y", direction="out", length=4, width=1, color=FRAME,
                   pad=5, labelsize=10, left=True)
    ax.set_xlabel("WTG Wind speed, m/s", fontsize=10, fontweight="bold", labelpad=5)
    ax.set_ylabel("SPL, dB(A)", fontsize=10, fontweight="bold", labelpad=6)

    fig.text(title_x / W, 1 - 17 / H, title, ha="center", va="center",
             fontsize=11.5, fontweight="bold")
    handles = [
        Line2D([], [], linestyle="none", marker="D", markersize=4.2, color=NAVY, label=lpa_label),
        Line2D([], [], linestyle="none", marker="s", markersize=5, color=RED, label="Downwind"),
        Line2D([], [], color="black", linewidth=2.3, label="Poly. (Downwind)"),
    ]
    leg = ax.legend(handles=handles, loc="center", ncol=3, frameon=True,
                    bbox_to_anchor=(legend_x / W, 1 - legend_y / H),
                    bbox_transform=fig.transFigure, fontsize=10,
                    handlelength=1.75, handletextpad=0.35, columnspacing=0.5,
                    borderpad=0.35, borderaxespad=0, fancybox=False)
    leg.get_frame().set_edgecolor("black")
    leg.get_frame().set_linewidth(1.0)
    fig.text(letter_x / W, 1 - letter_y / H, letter, ha="center", va="center",
             fontsize=14, fontweight="bold")
    return ax


draw_panel(px_rect(61, 71, 600, 359), inside_lpa, inside_downwind,
           inside_trend_x, inside_trend_y, inside_y_ticks,
           "Inside Danish Laeq vs WTG Wind Speed", "LpA, LF inside",
           308, 312, 51, "(a)", 313, 472)
draw_panel(px_rect(733, 68, 1269, 355), outside_lpa, outside_downwind,
           outside_trend_x, outside_trend_y, outside_y_ticks,
           "Outside Danish Laeq vs WTG Wind Speed", "LpA, LF outside",
           947, 985, 49, "(b)", 1003, 466)

fig.savefig("out.png", dpi=100)
